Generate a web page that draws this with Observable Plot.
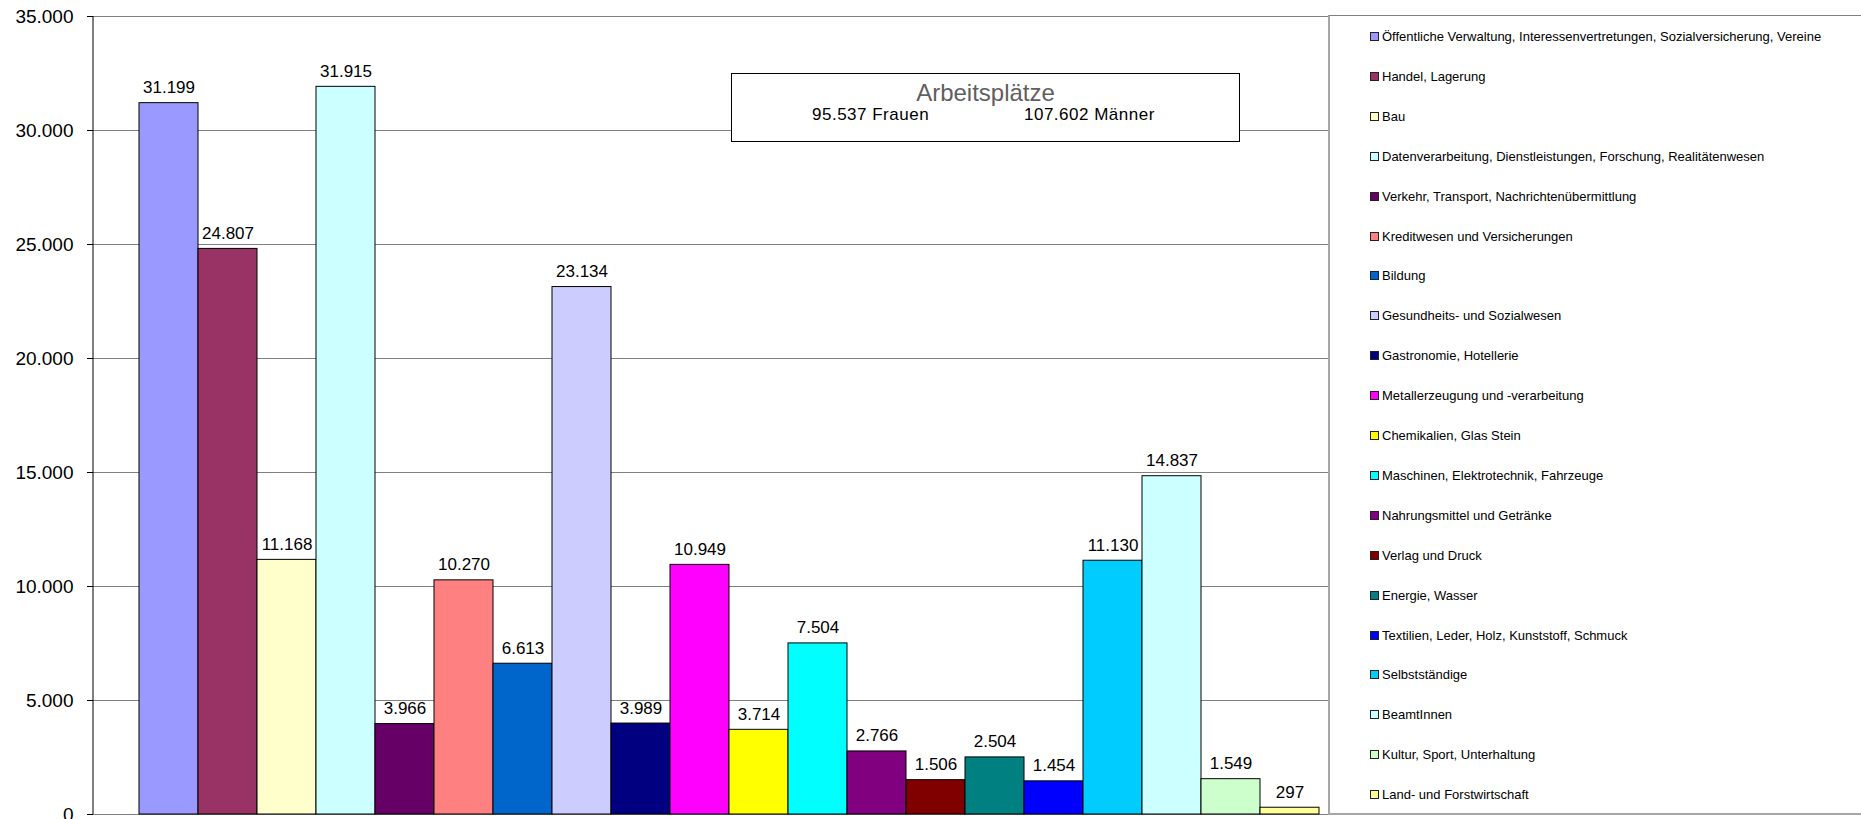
<!DOCTYPE html>
<html>
<head>
<meta charset="utf-8">
<script src="https://cdn.jsdelivr.net/npm/d3@7"></script>
<script src="https://cdn.jsdelivr.net/npm/@observablehq/plot@0.6"></script>
<style>
  html, body { margin: 0; padding: 0; background: #fff; overflow: hidden; }
  #wrap { position: relative; width: 1861px; height: 819px; font-family: "Liberation Sans", Arial, sans-serif; }
  #wrap svg { position: absolute; left: 0; top: 0; }
  #note { position: absolute; left: 731px; top: 73px; width: 507px; height: 67px; background: #fff; border: 1px solid #000; }
  #note .t { position: absolute; left: 0; width: 100%; top: 5px; text-align: center; font-size: 24px; color: #5f5f5f; }
  #note .f { position: absolute; left: 80px; top: 31px; font-size: 17px; letter-spacing: 0.5px; color: #000; }
  #note .m { position: absolute; left: 292px; top: 31px; font-size: 17px; letter-spacing: 0.5px; color: #000; }
  #legend { position: absolute; left: 1328px; top: 15px; width: 560px; height: 797px; border-left: 2px solid #a6a6a6; border-top: 1px solid #808080; border-bottom: 2px solid #a6a6a6; background: #fff; }
  #legend .item { position: absolute; left: 40px; height: 16px; font-size: 13px; color: #000; white-space: nowrap; line-height: 16px; }
  #legend .sw { display: inline-block; width: 7px; height: 7px; border: 1px solid #222; margin-right: 3px; vertical-align: 0px; }
</style>
</head>
<body>
<div id="wrap"></div>
<script>
const categories = [
  "Öffentliche Verwaltung, Interessenvertretungen, Sozialversicherung, Vereine",
  "Handel, Lagerung",
  "Bau",
  "Datenverarbeitung, Dienstleistungen, Forschung, Realitätenwesen",
  "Verkehr, Transport, Nachrichtenübermittlung",
  "Kreditwesen und Versicherungen",
  "Bildung",
  "Gesundheits- und Sozialwesen",
  "Gastronomie, Hotellerie",
  "Metallerzeugung und -verarbeitung",
  "Chemikalien, Glas Stein",
  "Maschinen, Elektrotechnik, Fahrzeuge",
  "Nahrungsmittel und Getränke",
  "Verlag und Druck",
  "Energie, Wasser",
  "Textilien, Leder, Holz, Kunststoff, Schmuck",
  "Selbstständige",
  "BeamtInnen",
  "Kultur, Sport, Unterhaltung",
  "Land- und Forstwirtschaft"
];
const values = [31199, 24807, 11168, 31915, 3966, 10270, 6613, 23134, 3989, 10949, 3714, 7504, 2766, 1506, 2504, 1454, 11130, 14837, 1549, 297];
const colors = ["#9999FF", "#993366", "#FFFFCC", "#CCFFFF", "#660066", "#FF8080", "#0066CC", "#CCCCFF", "#000080", "#FF00FF", "#FFFF00", "#00FFFF", "#800080", "#800000", "#008080", "#0000FF", "#00CCFF", "#CCFFFF", "#CCFFCC", "#FFFF99"];
const yTicks = [0, 5000, 10000, 15000, 20000, 25000, 30000, 35000];
const titleText = "Arbeitsplätze";
const frauenText = "95.537 Frauen";
const maennerText = "107.602 Männer";

const fmt = v => d3.format(",")(v).replace(/,/g, ".");
const data = categories.map((c, i) => ({name: c, value: values[i], color: colors[i]}));

const plot = Plot.plot({
  width: 1861,
  height: 819,
  marginLeft: 93,
  marginRight: 532,
  marginTop: 16,
  marginBottom: 5,
  style: {fontFamily: "'Liberation Sans', Arial, sans-serif", background: "transparent", overflow: "visible"},
  x: {domain: categories, range: [137, 1320], padding: 0, axis: null},
  y: {domain: [0, 35000], axis: null},
  marks: [
    Plot.gridY(yTicks, {stroke: "#808080", strokeOpacity: 1, strokeWidth: 1}),
    Plot.axisY(yTicks, {tickSize: 6, tickPadding: 14, fontSize: 19, tickFormat: fmt, stroke: "#000", color: "#000", label: null}),
    Plot.barY(data, {x: "name", y: "value", fill: "color", stroke: "#000", strokeWidth: 1, inset: 0}),
    Plot.text(data, {x: "name", y: "value", text: d => fmt(d.value), lineAnchor: "bottom", dy: -10, fontSize: 17, fill: "#000"})
  ]
});

const wrap = document.getElementById("wrap");
wrap.appendChild(plot);

// y axis line
const ys = plot.scale("y");
d3.select(plot).append("line")
  .attr("x1", 93).attr("x2", 93)
  .attr("y1", ys.apply(0)).attr("y2", ys.apply(35000))
  .attr("stroke", "#000").attr("stroke-width", 1);

// annotation box
const note = document.createElement("div");
note.id = "note";
note.innerHTML = `<div class="t">${titleText}</div><div class="f">${frauenText}</div><div class="m">${maennerText}</div>`;
wrap.appendChild(note);

// legend
const legend = document.createElement("div");
legend.id = "legend";
categories.forEach((c, i) => {
  const it = document.createElement("div");
  it.className = "item";
  it.style.top = (13 + i * 39.9) + "px";
  it.innerHTML = `<span class="sw" style="background:${colors[i]}"></span>${c}`;
  legend.appendChild(it);
});
wrap.appendChild(legend);
</script>
</body>
</html>
